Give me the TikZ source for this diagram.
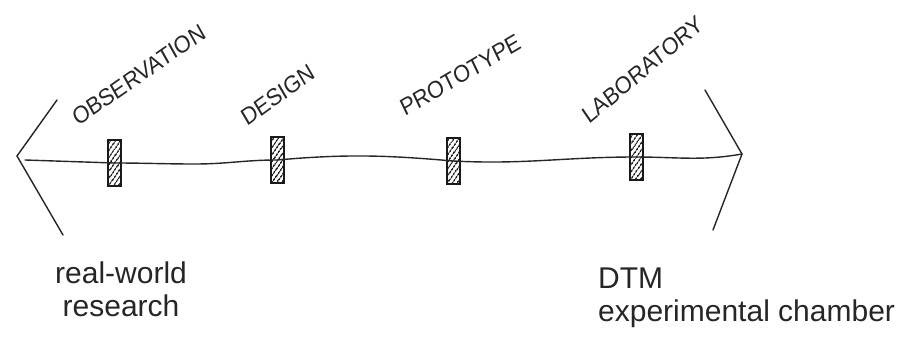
\documentclass[tikz,border=0pt]{standalone}
\usepackage{fontspec}
\setmainfont{Liberation Sans}
\usetikzlibrary{patterns.meta,positioning}

\begin{document}
\begin{tikzpicture}[x=1pt,y=-1pt,
  ink/.style={draw=black!85,line width=1.4pt,line cap=round},
  stage/.style={draw=black!90,line width=2pt,
    pattern={Lines[angle=55,distance=4pt,line width=1.8pt]},pattern color=black!85,
    minimum width=13pt,minimum height=46pt,inner sep=0pt},
  tag/.style={anchor=base west,inner sep=0pt,text=black!85,xscale=.9,font=\fontsize{24}{24}\selectfont},
  note/.style={anchor=north west,inner sep=0pt,text=black!85,font=\fontsize{30}{33}\selectfont}]
\useasboundingbox (0,0) rectangle (903,347);
% ends of the scale
\coordinate (ltip) at (17,156);
\coordinate (lup) at (57,100);
\coordinate (ldown) at (63,235);
\coordinate (lstart) at (25,160);
\coordinate (rtip) at (742,154);
\coordinate (rup) at (705,90);
\coordinate (rdown) at (713,230);
\coordinate (dip) at (195,164);
% stages
\node[stage] (obs) at (114,163) {};
\node[stage] (des) at (277,160) {};
\node[stage] (pro) at (453,161) {};
\node[stage] (lab) at (636,157) {};
\node[tag,rotate=32] (tobs) at (78,127) {OBSERVATION};
\node[tag,rotate=33] (tdes) at (247,127) {DESIGN};
\node[tag,rotate=28] (tpro) at (405,117) {PROTOTYPE};
\node[tag,rotate=37] (tlab) at (589,125) {LABORATORY};
% the line
\draw[ink] (lup) -- (ltip) -- (ldown);
\draw[ink] (rup) -- (rtip) -- (rdown);
\draw[ink] (lstart) -- (obs.center) to[out=0,in=180] (dip) to[out=0,in=180] (des.center)
  to[out=5,in=175] (pro.center) to[out=-3,in=180] (lab.center) to[out=0,in=190] (rtip);
% notes
\node[note,align=center] (real) at (55,262) {real-world\\research};
\node[note,align=left] (dtm) at (598,268) {DTM\\experimental chamber};
\end{tikzpicture}
\end{document}
